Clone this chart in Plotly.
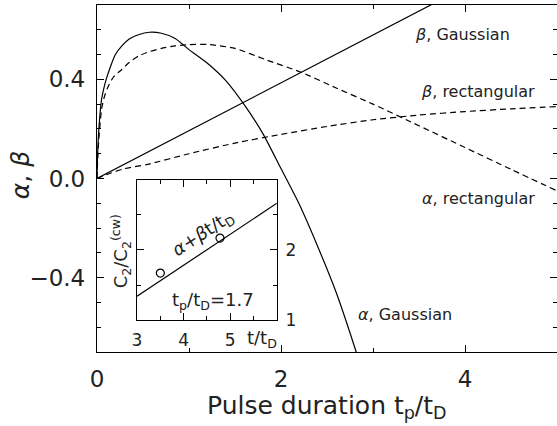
import plotly.graph_objects as go

# main panel: alpha / beta vs pulse duration
alpha_gauss_x = [0, 0.005, 0.01, 0.02, 0.035, 0.05, 0.075, 0.1, 0.15, 0.2, 0.27, 0.35, 0.45, 0.57, 0.7, 0.85,
                 1.0, 1.2, 1.4, 1.6, 1.8, 2.0, 2.2, 2.4, 2.6, 2.8, 2.85]
alpha_gauss_y = [0, 0.08, 0.13, 0.20, 0.27, 0.32, 0.365, 0.40, 0.455, 0.50, 0.535, 0.563, 0.58, 0.59, 0.586, 0.565,
                 0.52, 0.465, 0.395, 0.298, 0.183, 0.04, -0.105, -0.275, -0.46, -0.68, -0.74]

beta_gauss_x = [0, 5]
beta_gauss_y = [0, 0.965]

beta_rect_x = [0, 0.01, 0.02, 0.05, 0.08, 0.12, 0.18, 0.27, 0.35, 0.45, 0.57, 0.7, 0.85, 1.0, 1.2,
               1.5, 1.83, 2.23, 2.6, 3.0, 3.5, 4.0, 4.5, 5.0]
beta_rect_y = [0, 0.10, 0.16, 0.28, 0.33, 0.37, 0.41, 0.44, 0.468, 0.494, 0.512, 0.525, 0.535, 0.54, 0.541,
               0.525, 0.48, 0.427, 0.365, 0.30, 0.213, 0.125, 0.037, -0.05]

alpha_rect_x = [0, 0.1, 0.3, 0.55, 1.0, 1.5, 2.0, 2.5, 3.0, 3.5, 4.0, 4.5, 5.0]
alpha_rect_y = [0, 0.015, 0.04, 0.057, 0.10, 0.143, 0.178, 0.21, 0.237, 0.256, 0.27, 0.281, 0.29]

# inset: C2/C2(cw) vs t/tD
fit_x = [3, 6]
fit_y = [1.34, 2.667]
meas_x = [3.5, 4.78]
meas_y = [1.67, 2.17]

FONT = "DejaVu Sans"
INK = "#222"

fig = go.Figure()

solid = dict(color="black", width=1.2)
dashed = dict(color="black", width=1.2, dash="6px,4px")

fig.add_trace(go.Scatter(x=alpha_gauss_x, y=alpha_gauss_y, mode="lines",
                         line=dict(solid, shape="spline", smoothing=0.6)))
fig.add_trace(go.Scatter(x=beta_gauss_x, y=beta_gauss_y, mode="lines", line=solid))
fig.add_trace(go.Scatter(x=beta_rect_x, y=beta_rect_y, mode="lines",
                         line=dict(dashed, shape="spline", smoothing=0.6)))
fig.add_trace(go.Scatter(x=alpha_rect_x, y=alpha_rect_y, mode="lines",
                         line=dict(dashed, shape="spline", smoothing=0.6)))

fig.add_trace(go.Scatter(x=fit_x, y=fit_y, mode="lines", line=solid,
                         xaxis="x2", yaxis="y2"))
fig.add_trace(go.Scatter(x=meas_x, y=meas_y, mode="markers",
                         marker=dict(symbol="circle-open", size=8, color="black",
                                     line=dict(width=1.2)),
                         xaxis="x2", yaxis="y2"))

small = dict(family=FONT, size=16, color=INK)
inset = dict(family=FONT, size=18, color=INK)
big = dict(family=FONT, size=25, color=INK)

ann = [
    dict(x=3.97, y=0.58, text="<i>β</i>, Gaussian"),
    dict(x=4.14, y=0.35, text="<i>β</i>, rectangular"),
    dict(x=4.15, y=-0.08, text="<i>α</i>, rectangular"),
    dict(x=3.35, y=-0.55, text="<i>α</i>, Gaussian"),
]
for a in ann:
    a.update(xref="x", yref="y", font=small)

ann += [
    dict(x=4.42, y=2.23, xref="x2", yref="y2", text="<i>α</i>+<i>β</i>t/t<sub>D</sub>",
         textangle=-33, font=inset),
    dict(x=4.62, y=1.27, xref="x2", yref="y2", text="t<sub>p</sub>/t<sub>D</sub>=1.7",
         font=inset),
    dict(x=0.359, y=0.037, xref="paper", yref="paper", text="t/t<sub>D</sub>", font=inset),
    dict(x=0.052, y=0.29, xref="paper", yref="paper",
         text="C<sub>2</sub>/C<sub>2</sub><sup>(cw)</sup>", textangle=-90, font=inset),
    # axis titles
    dict(x=-0.167, y=0.51, xref="paper", yref="paper", text="<i>α</i>, <i>β</i>",
         textangle=-90, font=dict(family=FONT, size=25, color=INK)),
    dict(x=0.5, y=-0.158, xref="paper", yref="paper",
         text="Pulse duration t<sub>p</sub>/t<sub>D</sub>", font=big),
]
for a in ann:
    a.update(showarrow=False, xanchor="center", yanchor="middle")

axis_common = dict(showline=True, linecolor="black", linewidth=1.3, mirror="ticks",
                   ticks="inside", tickcolor="black", showgrid=False, zeroline=False)

fig.update_layout(
    width=557, height=426,
    margin=dict(l=97, r=0, t=5, b=74),
    paper_bgcolor="white", plot_bgcolor="white",
    showlegend=False,
    annotations=ann,
    xaxis=dict(axis_common, range=[0, 5], tickvals=[0, 2, 4], ticklen=7, tickwidth=1.3,
               minor=dict(dtick=1, ticks="inside", ticklen=4, tickcolor="black", tickwidth=1.2),
               ticklabelstandoff=6,
               tickfont=dict(family=FONT, size=23, color=INK)),
    yaxis=dict(axis_common, range=[-0.7, 0.7], tickvals=[-0.4, 0, 0.4], tickformat=".1f",
               ticklen=7, tickwidth=1.3,
               minor=dict(dtick=0.1, ticks="inside", ticklen=4, tickcolor="black", tickwidth=1.2),
               ticklabelstandoff=6,
               tickfont=dict(family=FONT, size=23, color=INK)),
    xaxis2=dict(axis_common, domain=[0.087, 0.391], anchor="y2", range=[3, 6],
                tickvals=[3, 4, 5], ticklen=7, tickwidth=1.3,
                minor=dict(dtick=0.5, ticks="inside", ticklen=4, tickcolor="black", tickwidth=1.2),
                ticklabelstandoff=4,
                tickfont=dict(family=FONT, size=17, color=INK)),
    yaxis2=dict(axis_common, domain=[0.092, 0.496], anchor="x2", side="right", range=[1, 3],
                tickvals=[1, 2], ticklen=7, tickwidth=1.3,
                minor=dict(dtick=0.5, ticks="inside", ticklen=4, tickcolor="black", tickwidth=1.2),
                ticklabelstandoff=4,
                tickfont=dict(family=FONT, size=17, color=INK)),
)

# the page has a default body margin; drop it so the figure sits at the window corner
fig.write_html("out.html", config={"displayModeBar": False},
               post_script="document.body.style.margin='0';")
